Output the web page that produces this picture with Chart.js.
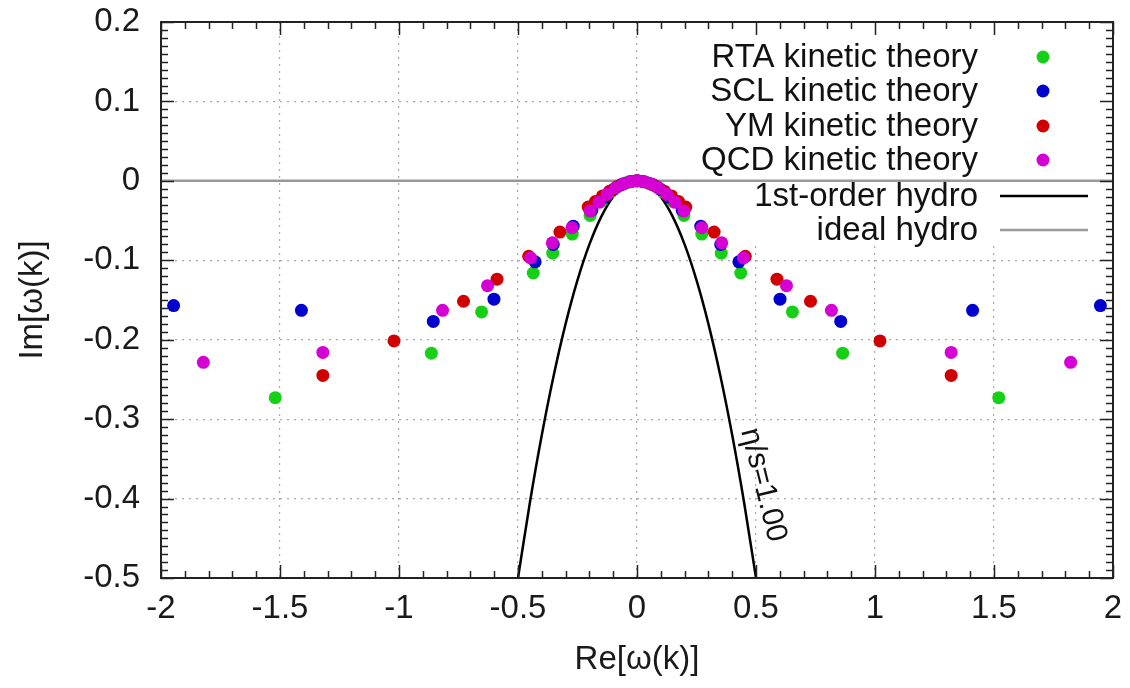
<!DOCTYPE html>
<html>
<head>
<meta charset="utf-8">
<script src="https://cdn.jsdelivr.net/npm/chart.js@4"></script>
<style>
  body { margin: 0; background: #fff; }
  canvas { display: block; }
</style>
</head>
<body>
<canvas id="myChart" width="1130" height="688"></canvas>
<script>
// dispersion relations: Re and Im of omega(k) for each kinetic theory
const rtaRe = [-1.52, -0.864, -0.653, -0.436, -0.354, -0.272, -0.197, -0.15, -0.11, -0.075, -0.045, -0.02, 0, 0.02, 0.045, 0.075, 0.11, 0.15, 0.197, 0.272, 0.354, 0.436, 0.653, 0.864, 1.52];
const rtaIm = [-0.273, -0.217, -0.165, -0.116, -0.091, -0.067, -0.0435, -0.026, -0.014, -0.0065, -0.0023, -0.0005, 0, -0.0005, -0.0023, -0.0065, -0.014, -0.026, -0.0435, -0.067, -0.091, -0.116, -0.165, -0.217, -0.273];

const sclRe = [-1.947, -1.41, -0.856, -0.601, -0.428, -0.352, -0.268, -0.19, -0.14, -0.1, -0.065, -0.03, 0, 0.03, 0.065, 0.1, 0.14, 0.19, 0.268, 0.352, 0.428, 0.601, 0.856, 1.41, 1.947];
const sclIm = [-0.157, -0.163, -0.177, -0.149, -0.102, -0.08, -0.057, -0.037, -0.021, -0.011, -0.0045, -0.001, 0, -0.001, -0.0045, -0.011, -0.021, -0.037, -0.057, -0.08, -0.102, -0.149, -0.177, -0.163, -0.157];

const ymRe = [-1.32, -1.021, -0.729, -0.588, -0.455, -0.324, -0.205, -0.175, -0.145, -0.115, -0.085, -0.055, -0.025, 0, 0.025, 0.055, 0.085, 0.115, 0.145, 0.175, 0.205, 0.324, 0.455, 0.588, 0.729, 1.021, 1.32];
const ymIm = [-0.245, -0.2015, -0.1516, -0.1238, -0.095, -0.0645, -0.033, -0.026, -0.019, -0.013, -0.0075, -0.0035, -0.001, 0, -0.001, -0.0035, -0.0075, -0.013, -0.019, -0.026, -0.033, -0.0645, -0.095, -0.1238, -0.1516, -0.2015, -0.245];

const qcdRe = [-1.822, -1.32, -0.817, -0.628, -0.447, -0.356, -0.273, -0.197, -0.16, -0.125, -0.09, -0.06, -0.03, 0, 0.03, 0.06, 0.09, 0.125, 0.16, 0.197, 0.273, 0.356, 0.447, 0.628, 0.817, 1.32, 1.822];
const qcdIm = [-0.2285, -0.216, -0.163, -0.132, -0.097, -0.078, -0.059, -0.038, -0.027, -0.017, -0.009, -0.004, -0.001, 0, -0.001, -0.004, -0.009, -0.017, -0.027, -0.038, -0.059, -0.078, -0.097, -0.132, -0.163, -0.216, -0.2285];

// first order hydro, eta/s = 1
const hydroRe = [-0.5, -0.45, -0.4, -0.35, -0.3, -0.25, -0.2, -0.15, -0.1, -0.05, 0, 0.05, 0.1, 0.15, 0.2, 0.25, 0.3, 0.35, 0.4, 0.45, 0.5];
const hydroIm = [-0.5, -0.405, -0.32, -0.245, -0.18, -0.125, -0.08, -0.045, -0.02, -0.005, 0, -0.005, -0.02, -0.045, -0.08, -0.125, -0.18, -0.245, -0.32, -0.405, -0.5];

const idealRe = [-2, 2];
const idealIm = [0, 0];

const FONT = "'Liberation Sans', Arial, sans-serif";

function pts(re, im) {
    return re.map((x, i) => ({x: x, y: im[i]}));
}

function fmt(v) {
    const r = Math.round(v * 100) / 100;
    return r === 0 ? '0' : String(r);
}

// key box, frame with inner ticks, curve label
const decor = {
    id: 'decor',
    beforeDatasetsDraw(chart) {
        const c = chart.ctx;
        const a = chart.chartArea;
        c.save();
        c.fillStyle = '#fff';
        c.fillRect(640, a.top + 1, a.right - 641, 245 - a.top);
        c.restore();
    },
    afterDatasetsDraw(chart) {
        const c = chart.ctx;
        const xs = chart.scales.x, ys = chart.scales.y;
        c.save();
        c.translate(xs.getPixelForValue(0.53), ys.getPixelForValue(-0.383));
        c.rotate(76 * Math.PI / 180);
        c.font = '30px ' + FONT;
        c.fillStyle = '#111';
        c.textAlign = 'center';
        c.textBaseline = 'middle';
        c.fillText('η/s=1.00', 0, 0);
        c.restore();
    },
    afterDraw(chart) {
        const c = chart.ctx;
        const a = chart.chartArea;
        const xs = chart.scales.x, ys = chart.scales.y;
        c.save();
        c.strokeStyle = '#222';
        c.lineWidth = 1.5;
        c.beginPath();
        for (let i = -50; i <= 20; i++) {
            const py = Math.round(ys.getPixelForValue(i / 100)) + 0.5;
            const len = i % 10 === 0 ? 13 : 7;
            c.moveTo(a.left, py); c.lineTo(a.left + len, py);
            c.moveTo(a.right, py); c.lineTo(a.right - len, py);
        }
        for (let i = -20; i <= 20; i++) {
            const px = Math.round(xs.getPixelForValue(i / 10)) + 0.5;
            const len = i % 5 === 0 ? 13 : 7;
            c.moveTo(px, a.bottom); c.lineTo(px, a.bottom - len);
            c.moveTo(px, a.top); c.lineTo(px, a.top + len);
        }
        c.stroke();
        c.lineWidth = 2;
        c.strokeRect(a.left, a.top, a.right - a.left, a.bottom - a.top);

        // key
        const rows = [57, 91, 126, 160, 196, 230];
        c.font = '33px ' + FONT;
        c.textAlign = 'right';
        c.textBaseline = 'middle';
        chart.data.datasets.forEach((ds, i) => {
            const y = rows[i];
            c.fillStyle = '#111';
            c.fillText(ds.label, 978, y + 1);
            if (ds.showLine) {
                c.strokeStyle = ds.borderColor;
                c.lineWidth = ds.borderWidth;
                c.beginPath();
                c.moveTo(1000, y); c.lineTo(1088, y);
                c.stroke();
            } else {
                c.fillStyle = ds.backgroundColor;
                c.beginPath();
                c.arc(1043, y, 6.5, 0, Math.PI * 2);
                c.fill();
            }
        });
        c.restore();
    }
};

function dots(label, re, im, color, order) {
    return {
        label: label,
        data: pts(re, im),
        backgroundColor: color,
        borderColor: color,
        borderWidth: 0,
        pointRadius: 6.5,
        showLine: false,
        order: order
    };
}

function curve(label, re, im, color, order) {
    return {
        label: label,
        data: pts(re, im),
        borderColor: color,
        backgroundColor: color,
        borderWidth: 2.5,
        pointRadius: 0,
        showLine: true,
        cubicInterpolationMode: 'monotone',
        order: order
    };
}

new Chart('myChart', {
    type: 'scatter',
    data: {
        datasets: [
            dots('RTA kinetic theory', rtaRe, rtaIm, '#16d016', 4),
            dots('SCL kinetic theory', sclRe, sclIm, '#0000cf', 3),
            dots('YM kinetic theory', ymRe, ymIm, '#d00000', 2),
            dots('QCD kinetic theory', qcdRe, qcdIm, '#d400d4', 1),
            curve('1st-order hydro', hydroRe, hydroIm, '#000', 5),
            curve('ideal hydro', idealRe, idealIm, '#999', 6)
        ]
    },
    options: {
        responsive: false,
        animation: false,
        layout: {padding: {left: 0, right: 17, top: 22, bottom: 0}},
        plugins: {
            legend: {display: false},
            tooltip: {enabled: false}
        },
        scales: {
            x: {
                type: 'linear',
                min: -2,
                max: 2,
                afterFit: s => { s.height = 110; },
                ticks: {
                    stepSize: 0.5,
                    padding: 2,
                    color: '#1a1a1a',
                    // tall line box pushes the labels down without a big padding
                    font: {family: FONT, size: 33, lineHeight: 1.76},
                    maxRotation: 0,
                    callback: v => fmt(v)
                },
                grid: {
                    drawTicks: false,
                    lineWidth: 1.2,
                    color: ctx => (Math.abs(ctx.tick.value) > 1.99 ? 'rgba(0,0,0,0)' : '#a8a8a8')
                },
                border: {display: false, dash: [2, 5]},
                title: {
                    display: true,
                    text: 'Re[ω(k)]',
                    color: '#1a1a1a',
                    font: {family: FONT, size: 33},
                    padding: {top: 0, bottom: 8}
                }
            },
            y: {
                type: 'linear',
                min: -0.5,
                max: 0.2,
                afterFit: s => { s.width = 161; },
                ticks: {
                    stepSize: 0.1,
                    padding: 21,
                    color: '#1a1a1a',
                    font: {family: FONT, size: 33, lineHeight: 0.05},
                    callback: v => fmt(v)
                },
                grid: {
                    drawTicks: false,
                    lineWidth: 1.2,
                    color: ctx => {
                        const v = ctx.tick.value;
                        return (v > 0.19 || v < -0.49 || Math.abs(v) < 0.001) ? 'rgba(0,0,0,0)' : '#a8a8a8';
                    }
                },
                border: {display: false, dash: [2, 5]},
                title: {
                    display: true,
                    text: 'Im[ω(k)]',
                    color: '#1a1a1a',
                    font: {family: FONT, size: 33},
                    padding: {top: 13, bottom: 0}
                }
            }
        }
    },
    plugins: [decor]
});
</script>
</body>
</html>
